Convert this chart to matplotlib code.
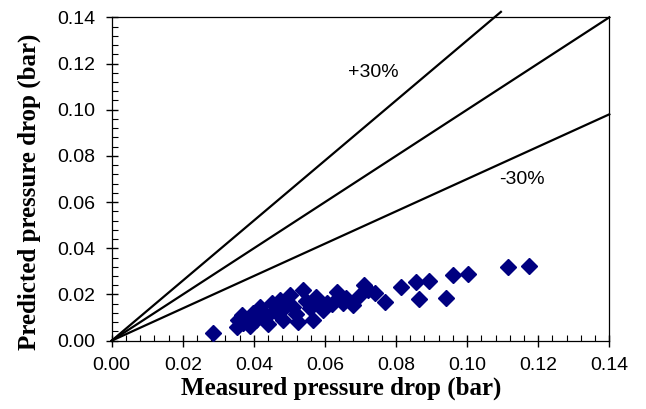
import matplotlib
matplotlib.use("Agg")
import matplotlib.pyplot as plt
import numpy as np
from matplotlib.ticker import MultipleLocator

# measured vs predicted pressure drop (bar)
measured = [0.0285, 0.0353, 0.0355, 0.0367, 0.0369, 0.0381, 0.0389, 0.0398, 0.0406, 0.0417,
            0.0426, 0.0437, 0.0440, 0.0451, 0.0460, 0.0468, 0.0474, 0.0482, 0.0490, 0.0502,
            0.0510, 0.0519, 0.0524, 0.0538, 0.0547, 0.0558, 0.0566, 0.0575, 0.0583, 0.0595,
            0.0606, 0.0620, 0.0634, 0.0651, 0.0659, 0.0679, 0.0699, 0.0710, 0.0721, 0.0741,
            0.0769, 0.0814, 0.0856, 0.0865, 0.0893, 0.0941, 0.0960, 0.1003, 0.1115, 0.1174]
predicted = [0.0033, 0.0059, 0.0090, 0.0111, 0.0077, 0.0094, 0.0064, 0.0120, 0.0090, 0.0146,
             0.0098, 0.0107, 0.0072, 0.0163, 0.0129, 0.0120, 0.0176, 0.0090, 0.0150, 0.0198,
             0.0146, 0.0116, 0.0081, 0.0219, 0.0172, 0.0142, 0.0090, 0.0189, 0.0155, 0.0133,
             0.0163, 0.0159, 0.0211, 0.0163, 0.0185, 0.0155, 0.0198, 0.0241, 0.0219, 0.0206,
             0.0168, 0.0232, 0.0254, 0.0181, 0.0259, 0.0185, 0.0285, 0.0289, 0.0319, 0.0323]

# parity line and +/-30% bounds
bound_factors = [1.3, 1.0, 0.7]
bound_ends = [0.1095, 0.14, 0.14]

fig = plt.figure(figsize=(6.46, 4.09), dpi=100)
ax = fig.add_axes([0.1729, 0.167, 0.7703, 0.7907])

for f, xe in zip(bound_factors, bound_ends):
    xs = np.array([0.0, xe])
    ax.plot(xs, f * xs, color="black", lw=1.6, clip_on=False, zorder=2)

ax.plot(measured, predicted, linestyle="none", marker="D", ms=8.6,
        color="#000080", mec="#000080", zorder=3, clip_on=False)

ax.text(0.0735, 0.1163, "+30%", fontsize=14, family="Liberation Sans",
        ha="center", va="center")
ax.text(0.1154, 0.0696, "-30%", fontsize=14, family="Liberation Sans",
        ha="center", va="center")

ax.set_xlim(0, 0.14)
ax.set_ylim(0, 0.14)
ax.xaxis.set_major_locator(MultipleLocator(0.02))
ax.yaxis.set_major_locator(MultipleLocator(0.02))
ax.xaxis.set_minor_locator(MultipleLocator(0.004))
ax.yaxis.set_minor_locator(MultipleLocator(0.004))
ax.xaxis.set_major_formatter(plt.FormatStrFormatter("%.2f"))
ax.yaxis.set_major_formatter(plt.FormatStrFormatter("%.2f"))

ax.tick_params(which="major", direction="inout", length=9, width=1, pad=7,
               labelsize=14)
ax.tick_params(which="minor", direction="in", length=4, width=0.8)
for lab in ax.get_xticklabels() + ax.get_yticklabels():
    lab.set_family("Liberation Sans")

for sp in ax.spines.values():
    sp.set_linewidth(0.9)

ax.set_xlabel("Measured pressure drop (bar)", family="Liberation Serif",
              fontweight="bold", fontsize=18, labelpad=2)
ax.set_ylabel("Predicted pressure drop (bar)", family="Liberation Serif",
              fontweight="bold", fontsize=18, labelpad=12)
# labels sit a little left of / below the axis centre
ax.xaxis.label.set_x(0.462)
ax.yaxis.label.set_y(0.46)

fig.savefig("out.png", dpi=100)
